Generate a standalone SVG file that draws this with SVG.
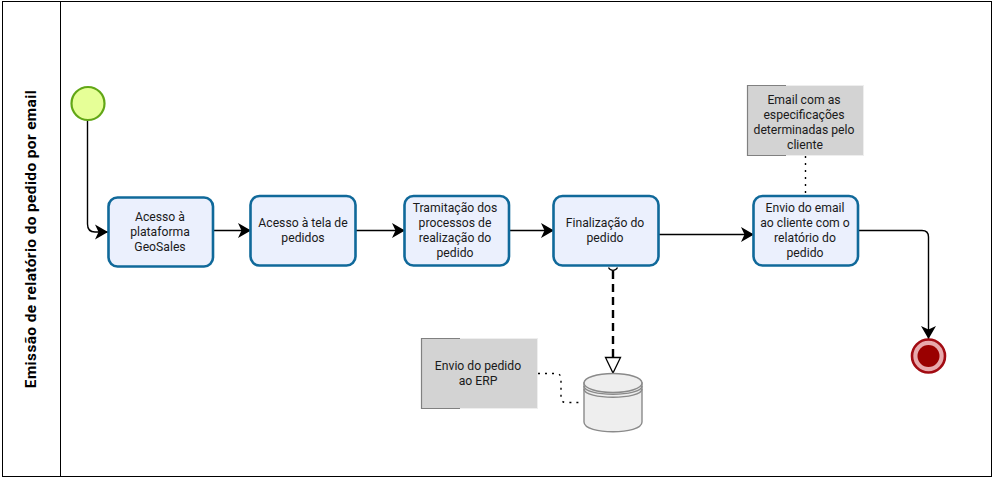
<svg xmlns="http://www.w3.org/2000/svg" width="997" height="481" viewBox="0 0 997 481">
<style>
text{font-family:Roboto,"Noto Sans","Liberation Sans",sans-serif;font-size:12.200px;fill:#1a1a1a;text-anchor:middle}
.task{fill:#ebf0fd;stroke:#10699a;stroke-width:2.600}
.note{fill:#d3d3d3;stroke:#eeeeee;stroke-width:1}
.br{fill:none;stroke:#808080;stroke-width:1.200}
.flow{fill:none;stroke:#000;stroke-width:1.400}
.dot{fill:none;stroke:#000;stroke-width:1.400;stroke-dasharray:2 5}
</style>
<defs>
<marker id="arr" markerUnits="userSpaceOnUse" markerWidth="15" markerHeight="16" refX="13" refY="8" orient="auto"><path d="M0 0.500 L13 8 L0 15.500 L3.500 8 Z" fill="#000"/></marker>
</defs>
<rect width="997" height="481" fill="#fff"/>
<g id="pool">
<rect x="2.500" y="1.500" width="989" height="475" fill="#fff" stroke="#000" stroke-width="1"/>
<line x1="60.500" y1="1.500" x2="60.500" y2="476.500" stroke="#000" stroke-width="1"/>
<text transform="translate(36 239) rotate(-90)" style="font-size:15.400px;font-weight:700;fill:#000;letter-spacing:.4px">Emissão de relatório do pedido por email</text>
</g>
<g id="connectors">
<path class="flow" d="M87.500 120V224Q87.500 232 95 232H108" marker-end="url(#arr)"/>
<line class="flow" x1="213" y1="230.500" x2="251" y2="230.500" marker-end="url(#arr)"/>
<line class="flow" x1="356" y1="230.500" x2="405" y2="230.500" marker-end="url(#arr)"/>
<line class="flow" x1="509" y1="230.500" x2="554" y2="230.500" marker-end="url(#arr)"/>
<line class="flow" x1="659" y1="234.500" x2="754" y2="234.500" marker-end="url(#arr)"/>
<path class="flow" d="M858 230.500H922Q928.500 230.500 928.500 237V339" marker-end="url(#arr)"/>
<line x1="613" y1="271" x2="613" y2="357" fill="none" stroke="#000" stroke-width="2.400" stroke-dasharray="8 5"/>
<path d="M608.500 267.500A5 5 0 0 0 617.500 267.500" fill="#fff" stroke="#000" stroke-width="1.200"/>
<path d="M605.500 357.500H620.500L613 373Z" fill="#fff" stroke="#000" stroke-width="1.300"/>
<path class="dot" d="M538 373.500H556Q561 373.500 561 379V397Q561 402.500 566 402.500H583"/>
<line class="dot" x1="805.500" y1="156" x2="805.500" y2="194"/>
</g>
<g id="start"><circle cx="88" cy="103.500" r="16.500" fill="#e6ff97" stroke="#62a716" stroke-width="2.200"/></g>
<g id="task1"><rect class="task" x="108.500" y="197.500" width="104.500" height="69" rx="9"/><text x="160" y="221">Acesso à</text><text x="160" y="236">plataforma</text><text x="160" y="251">GeoSales</text></g>
<g id="task2"><rect class="task" x="250.500" y="196" width="105" height="69.500" rx="9"/><text x="303" y="227">Acesso à tela de</text><text x="303" y="242">pedidos</text></g>
<g id="task3"><rect class="task" x="404.500" y="196" width="104.500" height="69.500" rx="9"/><text x="455" y="212">Tramitação dos</text><text x="455" y="227">processos de</text><text x="455" y="242">realização do</text><text x="455" y="257">pedido</text></g>
<g id="task4"><rect class="task" x="553.500" y="196" width="105" height="69.500" rx="9"/><text x="605" y="227">Finalização do</text><text x="605" y="242">pedido</text></g>
<g id="task5"><rect class="task" x="753.500" y="196" width="104.500" height="69.500" rx="9"/><text x="805" y="212">Envio do email</text><text x="805" y="227">ao cliente com o</text><text x="805" y="242">relatório do</text><text x="805" y="257">pedido</text></g>
<g id="end"><circle cx="928.500" cy="356" r="16.500" fill="#e8a9ac" stroke="#a20b12" stroke-width="2.600"/><circle cx="928.500" cy="356" r="11" fill="#9a0000"/></g>
<g id="note-email"><rect class="note" x="747.500" y="85.500" width="116" height="70"/><path class="br" d="M786 85.500H747.500V155.500H786"/><text x="804" y="104">Email com as</text><text x="804" y="119">especificações</text><text x="804" y="134">determinadas pelo</text><text x="805" y="149">cliente</text></g>
<g id="note-erp"><rect class="note" x="421.500" y="338.500" width="116" height="70"/><path class="br" d="M460 338.500H421.500V408.500H460"/><text x="478" y="370">Envio do pedido</text><text x="478" y="385">ao ERP</text></g>
<g id="datastore" fill="#eeeeee" stroke="#8a8a8a" stroke-width="1.400">
<path d="M584 383V422C584 435 642 435 642 422V383Z"/>
<ellipse cx="613" cy="383" rx="29" ry="9.500"/>
<path d="M584 386C584 397 642 397 642 386M584 389C584 400 642 400 642 389" fill="none"/>
</g>
</svg>
